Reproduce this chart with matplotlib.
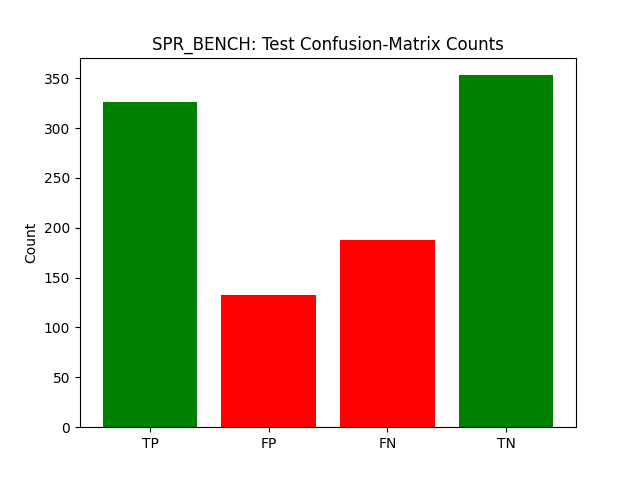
import matplotlib
matplotlib.use("Agg")
import matplotlib.pyplot as plt

labels = ["TP", "FP", "FN", "TN"]
counts = [326, 133, 188, 353]
colors = ["green", "red", "red", "green"]

fig, ax = plt.subplots(figsize=(6.4, 4.8), dpi=100)
ax.bar(labels, counts, color=colors)
ax.set_ylabel("Count")
ax.set_title("SPR_BENCH: Test Confusion-Matrix Counts")
fig.savefig("out.png")
